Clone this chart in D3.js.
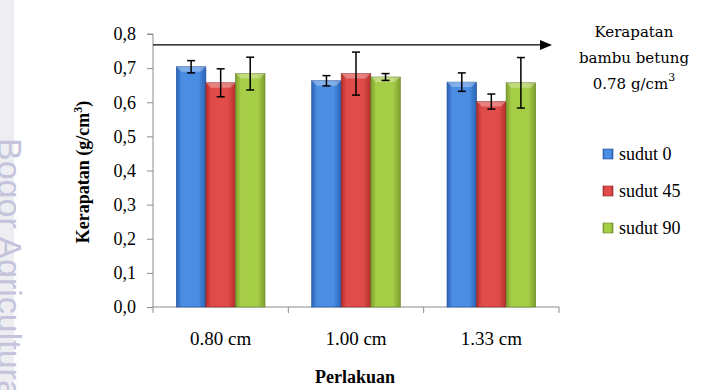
<!DOCTYPE html>
<html>
<head>
<meta charset="utf-8">
<script src="https://cdn.jsdelivr.net/npm/d3@7"></script>
<style>
  body { margin: 0; background: #fff; }
  svg { display: block; }
</style>
</head>
<body>
<div id="chart"></div>
<script>
// data
var categories = ["0.80 cm", "1.00 cm", "1.33 cm"];
var seriesNames = ["sudut 0", "sudut 45", "sudut 90"];
var sudut0 = [0.704, 0.663, 0.659];
var sudut45 = [0.657, 0.684, 0.602];
var sudut90 = [0.684, 0.674, 0.657];
var err0 = [0.018, 0.015, 0.027];
var err45 = [0.041, 0.063, 0.022];
var err90 = [0.048, 0.010, 0.074];
var yTicks = [0, 0.1, 0.2, 0.3, 0.4, 0.5, 0.6, 0.7, 0.8];
var refValue = 0.768;
var refLabel = ["Kerapatan", "bambu betung", "0.78  g/cm"];

var width = 723, height = 390;
var plotLeft = 153, plotRight = 559, plotTop = 34, plotBottom = 307;

var svg = d3.select('#chart').append('svg').attr('width', width).attr('height', height);
var defs = svg.append('defs');

// watermark strip
svg.append('rect').attr('x', 0).attr('y', 0).attr('width', 14).attr('height', height).attr('fill', '#eeeef2');
svg.append('text')
  .attr('transform', 'translate(-2,138) rotate(90)')
  .attr('font-family', 'Liberation Sans, Arial, sans-serif')
  .attr('font-size', 34)
  .attr('fill', '#c4c4dc')
  .text('Bogor Agricultural University');

var x = d3.scaleBand().domain(categories).range([plotLeft, plotRight]).paddingInner(0.345).paddingOuter(0.1725);
var xs = d3.scaleBand().domain(seriesNames).range([0, x.bandwidth()]);
var y = d3.scaleLinear().domain([0, 0.8]).range([plotBottom, plotTop]);

var colors = [
  { mid: '#4a8de2', edge: '#2a62b4', dark: '#1f4f96' },
  { mid: '#df4c49', edge: '#b52d2b', dark: '#8e2220' },
  { mid: '#a6cd46', edge: '#7d9e2c', dark: '#627d22' }
];
colors.forEach(function(c, i) {
  var g = defs.append('linearGradient').attr('id', 'grad' + i).attr('x1', 0).attr('x2', 1).attr('y1', 0).attr('y2', 0);
  g.append('stop').attr('offset', '0%').attr('stop-color', c.edge);
  g.append('stop').attr('offset', '18%').attr('stop-color', c.mid);
  g.append('stop').attr('offset', '75%').attr('stop-color', c.mid);
  g.append('stop').attr('offset', '100%').attr('stop-color', c.edge);
});

// axes
var yAxis = svg.append('g').attr('transform', 'translate(' + plotLeft + ',0)')
  .call(d3.axisLeft(y).tickValues(yTicks).tickSize(6).tickPadding(11)
    .tickFormat(function(d) { return d3.format('.1f')(d).replace('.', ','); }));
yAxis.select('.domain').attr('stroke', '#8c8c8c').attr('d', 'M-6,' + plotTop + 'H0V' + plotBottom);
yAxis.selectAll('.tick line').attr('stroke', '#8c8c8c');
yAxis.selectAll('.tick text').attr('font-family', 'Liberation Serif, Times New Roman, serif').attr('font-size', 18).attr('fill', '#000');

var xAxisG = svg.append('g').attr('transform', 'translate(0,' + plotBottom + ')');
xAxisG.append('line').attr('x1', plotLeft).attr('x2', plotRight).attr('stroke', '#8c8c8c');
var bounds = categories.map(function(c) { return x(c) - x.step() * x.paddingInner() / 2; });
bounds.push(plotRight);
xAxisG.selectAll('line.tk').data(bounds).enter().append('line')
  .attr('class', 'tk').attr('x1', function(d) { return d; }).attr('x2', function(d) { return d; })
  .attr('y1', 0).attr('y2', 6).attr('stroke', '#8c8c8c');
xAxisG.selectAll('text').data(categories).enter().append('text')
  .attr('x', function(d) { return x(d) + x.bandwidth() / 2; })
  .attr('y', 38)
  .attr('text-anchor', 'middle')
  .attr('font-family', 'Liberation Serif, Times New Roman, serif')
  .attr('font-size', 19)
  .text(function(d) { return d; });

// bars
var series = [sudut0, sudut45, sudut90];
var errs = [err0, err45, err90];
series.forEach(function(vals, si) {
  var g = svg.append('g');
  var data = categories.map(function(c, i) { return { c: c, v: vals[i], e: errs[si][i] }; });
  var bx = function(d) { return x(d.c) + xs(seriesNames[si]); };
  g.selectAll('rect.bar').data(data).enter().append('rect')
    .attr('x', bx).attr('y', function(d) { return y(d.v); })
    .attr('width', xs.bandwidth()).attr('height', function(d) { return y(0) - y(d.v); })
    .attr('fill', 'url(#grad' + si + ')')
    .attr('stroke', colors[si].dark).attr('stroke-width', 0.6);
  // top bevel highlight
  g.selectAll('path.bevel').data(data).enter().append('path')
    .attr('d', function(d) {
      var x0 = bx(d), w = xs.bandwidth(), t = y(d.v);
      return 'M' + x0 + ',' + t + 'H' + (x0 + w) + 'L' + (x0 + w - 5) + ',' + (t + 5) + 'H' + (x0 + 5) + 'Z';
    })
    .attr('fill', '#fff').attr('opacity', 0.3);
  // error bars
  var eb = g.selectAll('g.err').data(data).enter().append('g').attr('stroke', '#000').attr('stroke-width', 1.5);
  var cx = function(d) { return bx(d) + xs.bandwidth() / 2; };
  eb.append('line').attr('x1', cx).attr('x2', cx)
    .attr('y1', function(d) { return y(d.v + d.e); }).attr('y2', function(d) { return y(d.v - d.e); });
  eb.append('line').attr('x1', function(d) { return cx(d) - 4; }).attr('x2', function(d) { return cx(d) + 4; })
    .attr('y1', function(d) { return y(d.v + d.e); }).attr('y2', function(d) { return y(d.v + d.e); });
  eb.append('line').attr('x1', function(d) { return cx(d) - 4; }).attr('x2', function(d) { return cx(d) + 4; })
    .attr('y1', function(d) { return y(d.v - d.e); }).attr('y2', function(d) { return y(d.v - d.e); });
});

// reference arrow
var ry = y(refValue);
svg.append('line').attr('x1', plotLeft).attr('x2', 543).attr('y1', ry).attr('y2', ry).attr('stroke', '#000').attr('stroke-width', 1.3);
svg.append('path').attr('d', 'M540,' + (ry - 5) + 'L552,' + ry + 'L540,' + (ry + 5) + 'Z').attr('fill', '#000');

var refText = svg.append('g').attr('font-family', 'DejaVu Serif, serif').attr('font-size', 15).attr('text-anchor', 'middle');
refLabel.forEach(function(t, i) {
  var tx = refText.append('text').attr('x', 634).attr('y', 37 + i * 26).text(t);
  if (i == 2) tx.append('tspan').attr('dy', -8).attr('font-size', 11).text('3');
});

// legend
var legend = svg.append('g');
seriesNames.forEach(function(n, i) {
  var ly = 154 + i * 37;
  legend.append('rect').attr('x', 603).attr('y', ly - 5).attr('width', 10).attr('height', 10)
    .attr('fill', 'url(#grad' + i + ')').attr('stroke', colors[i].dark).attr('stroke-width', 0.6);
  legend.append('text').attr('x', 619).attr('y', ly + 6)
    .attr('font-family', 'Liberation Serif, Times New Roman, serif').attr('font-size', 18)
    .text(n);
});

// axis titles
svg.append('text').attr('x', 355).attr('y', 383).attr('text-anchor', 'middle')
  .attr('font-family', 'Liberation Serif, Times New Roman, serif').attr('font-size', 18).attr('font-weight', 'bold')
  .text('Perlakuan');
var yt = svg.append('text').attr('transform', 'translate(89,172) rotate(-90)').attr('text-anchor', 'middle')
  .attr('font-family', 'Liberation Serif, Times New Roman, serif').attr('font-size', 18).attr('font-weight', 'bold');
yt.append('tspan').text('Kerapatan (g/cm');
yt.append('tspan').attr('dy', -7).attr('font-size', 12).text('3');
yt.append('tspan').attr('dy', 7).text(')');
</script>
</body>
</html>
